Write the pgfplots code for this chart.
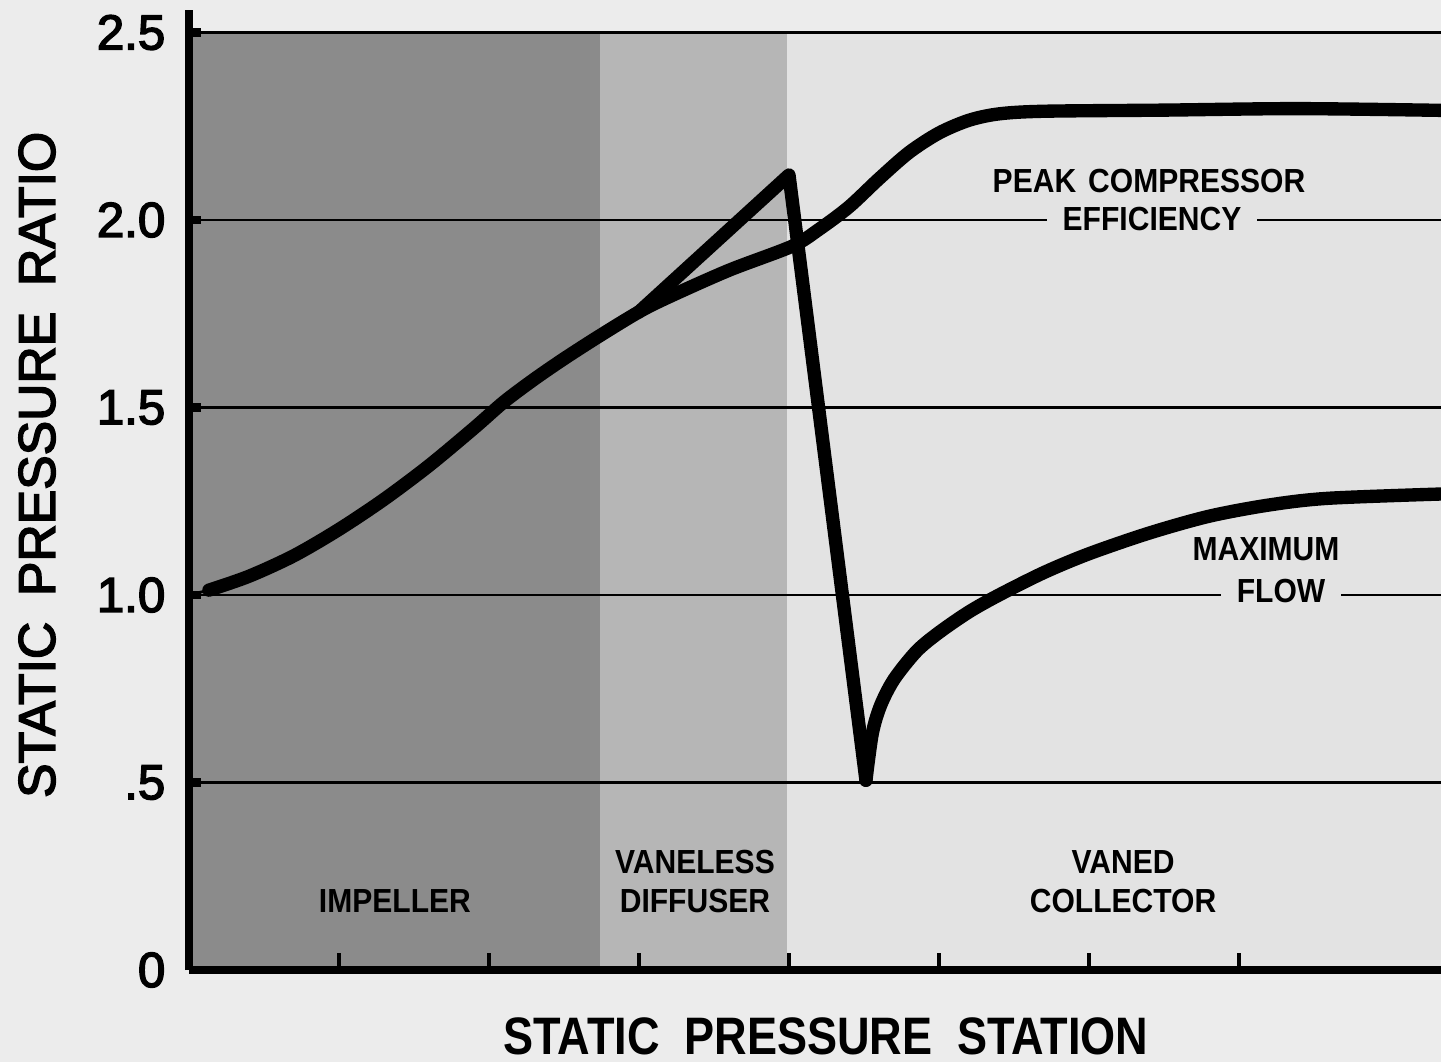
\documentclass[border=0pt]{standalone}
\usepackage{pgfplots}
\pgfplotsset{compat=1.18}
\usepackage{fontspec}
\setmainfont{Liberation Sans}
\newfontfamily\medfont{Liberation Sans}[FakeBold=3]
\usepackage{graphicx}
\definecolor{bgc}{HTML}{ECECEC}
\definecolor{impc}{HTML}{8B8B8B}
\definecolor{difc}{HTML}{B6B6B6}
\definecolor{colc}{HTML}{E3E3E3}
\newcommand{\lab}[1]{\scalebox{0.9}[1]{\bfseries #1}}
\begin{document}
\begin{tikzpicture}
\clip (-1.89,-0.92) rectangle (12.52,9.70);
\fill[bgc] (-1.89,-0.92) rectangle (12.52,9.70);
\begin{axis}[
  x=1.5cm, y=3.75cm,
  xmin=0, xmax=8.35, ymin=0, ymax=2.56,
  axis x line=bottom, axis y line=left,
  axis line style={line width=2.4pt, -},
  axis on top,
  clip=false,
  xtick={1,2,3,4,5,6,7}, xticklabels={},
  ytick={0,0.5,1,1.5,2,2.5},
  yticklabels={0,.5,1.0,1.5,2.0,2.5},
  tick align=inside,
  xtick style={black, line width=1.3pt, /pgfplots/major tick length=1.7mm},
  ytick style={black, line width=2.5pt, /pgfplots/major tick length=1.2mm},
  /pgf/number format/assume math mode=true,
  yticklabel style={font=\medfont\fontsize{14}{14}\selectfont, anchor=east, inner sep=0pt, xshift=-2.3mm},
  xlabel={\scalebox{0.855}[1]{\bfseries STATIC\hspace{0.55em}PRESSURE\hspace{0.55em}STATION}},
  xlabel style={at={(axis cs:4.247,-0.178)}, anchor=center, font=\fontsize{15}{15}\selectfont},
  ylabel={STATIC\hspace{0.5em}PRESSURE\hspace{0.5em}RATIO},
  ylabel style={at={(axis cs:-1.013,1.347)}, anchor=center, rotate=0, font=\medfont\fontsize{14.7}{14.7}\selectfont},
]
% shaded regions
\addplot[fill=impc, draw=none] coordinates {(0,0) (0,2.5) (2.74,2.5) (2.74,0)} -- cycle;
\addplot[fill=difc, draw=none] coordinates {(2.74,0) (2.74,2.5) (3.987,2.5) (3.987,0)} -- cycle;
\addplot[fill=colc, draw=none] coordinates {(3.987,0) (3.987,2.5) (8.35,2.5) (8.35,0)} -- cycle;
% grid lines
\addplot[black, line width=0.8pt] coordinates {(0,0.5) (8.35,0.5)};
\addplot[black, line width=0.8pt] coordinates {(0,1.0) (8.35,1.0)};
\addplot[black, line width=0.8pt] coordinates {(0,1.5) (8.35,1.5)};
\addplot[black, line width=0.8pt] coordinates {(0,2.0) (8.35,2.0)};
\addplot[black, line width=0.8pt] coordinates {(0,2.5) (8.35,2.5)};
% connector at start
\addplot[black, line width=0.8pt] coordinates {(0,1.0) (0.133,1.013)};
% peak compressor efficiency
\addplot[black, line width=3.8pt, smooth, line cap=round, line join=round] coordinates {
(0.133,1.013) (0.4,1.05) (0.7,1.105) (1.0,1.175) (1.3,1.255) (1.6,1.345)
(1.9,1.445) (2.1,1.515) (2.3,1.575) (2.5,1.63) (2.733,1.69) (3.0,1.755)
(3.2,1.795) (3.6,1.866) (4.02,1.93) (4.2,1.975) (4.4,2.035) (4.6,2.11)
(4.8,2.18) (5.0,2.232) (5.2,2.266) (5.4,2.283) (5.7,2.29) (6.5,2.293)
(7.4,2.297) (8.4,2.292)};
% maximum flow
\addplot[black, line width=3.8pt, line cap=round, line join=round] coordinates {
(3.0,1.755) (4.0,2.12) (4.513,0.506)};
\addplot[black, line width=3.8pt, smooth, line cap=round, line join=round] coordinates {
(4.513,0.506) (4.555,0.63) (4.61,0.705) (4.7,0.775) (4.85,0.85) (5.0,0.9)
(5.2,0.955) (5.4,1.0) (5.7,1.06) (6.0,1.11) (6.4,1.165) (6.8,1.21)
(7.2,1.24) (7.6,1.258) (8.4,1.27)};
% labels
\node[font=\fontsize{9.5}{9.5}\selectfont] at (axis cs:6.4,2.104) {\lab{PEAK\hspace{0.4em}COMPRESSOR}};
\node[font=\fontsize{9.5}{9.5}\selectfont, fill=colc, inner xsep=1.6mm, inner ysep=0.4mm] at (axis cs:6.42,2.003) {\lab{EFFICIENCY}};
\node[font=\fontsize{9.5}{9.5}\selectfont] at (axis cs:7.18,1.123) {\lab{MAXIMUM}};
\node[font=\fontsize{9.5}{9.5}\selectfont, fill=colc, inner xsep=1.6mm, inner ysep=0.4mm] at (axis cs:7.28,1.012) {\lab{FLOW}};
\node[font=\fontsize{9.5}{9.5}\selectfont] at (axis cs:1.373,0.184) {\lab{IMPELLER}};
\node[font=\fontsize{9.5}{9.5}\selectfont] at (axis cs:3.373,0.288) {\lab{VANELESS}};
\node[font=\fontsize{9.5}{9.5}\selectfont] at (axis cs:3.373,0.184) {\lab{DIFFUSER}};
\node[font=\fontsize{9.5}{9.5}\selectfont] at (axis cs:6.227,0.288) {\lab{VANED}};
\node[font=\fontsize{9.5}{9.5}\selectfont] at (axis cs:6.227,0.184) {\lab{COLLECTOR}};
\end{axis}
\end{tikzpicture}
\end{document}
